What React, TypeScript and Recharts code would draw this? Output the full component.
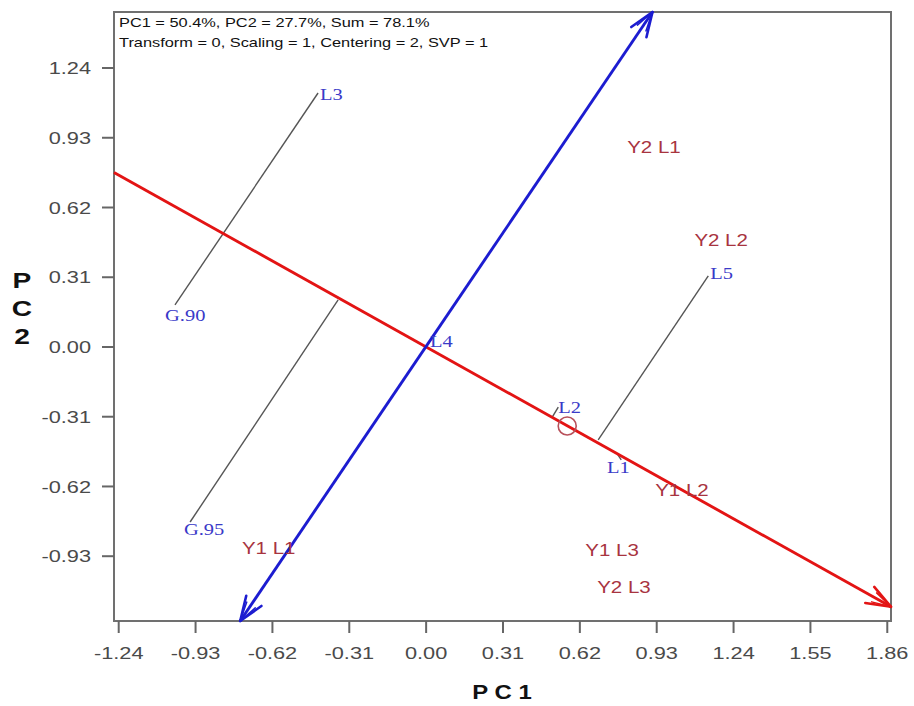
import React from 'react';
import { ScatterChart, Scatter, XAxis, YAxis, ReferenceLine, ReferenceArea, ReferenceDot } from 'recharts';

// axis ticks (PC1 / PC2)
const xTicks = [-1.24, -0.93, -0.62, -0.31, 0, 0.31, 0.62, 0.93, 1.24, 1.55, 1.86];
const yTicks = [-0.93, -0.62, -0.31, 0, 0.31, 0.62, 0.93, 1.24];
const xDomain = [-1.259, 1.875];
const yDomain = [-1.218, 1.489];

// genotype labels (blue)
const genotypes = [
  { label: 'L3', x: -0.428, y: 1.12 },
  { label: 'G.90', x: -1.053, y: 0.138 },
  { label: 'L4', x: 0.016, y: 0.022 },
  { label: 'L2', x: 0.533, y: -0.271 },
  { label: 'L1', x: 0.73, y: -0.538 },
  { label: 'L5', x: 1.146, y: 0.324 },
  { label: 'G.95', x: -0.977, y: -0.813 },
];

// environment labels (red)
const environments = [
  { label: 'Y2 L1', x: 0.811, y: 0.889 },
  { label: 'Y2 L2', x: 1.082, y: 0.476 },
  { label: 'Y1 L2', x: 0.924, y: -0.636 },
  { label: 'Y1 L3', x: 0.642, y: -0.902 },
  { label: 'Y2 L3', x: 0.69, y: -1.067 },
  { label: 'Y1 L1', x: -0.743, y: -0.893 },
];

// average environment axis and its ordinate
const aeaAxis = [{ x: -1.259, y: 0.776 }, { x: 1.875, y: -1.155 }];
const aeaOrdinate = [{ x: -0.75, y: -1.218 }, { x: 0.913, y: 1.489 }];

// projections onto the axis
const projections = [
  [{ x: -0.436, y: 1.129 }, { x: -1.013, y: 0.187 }],
  [{ x: -0.355, y: 0.209 }, { x: -0.952, y: -0.778 }],
  [{ x: 1.138, y: 0.316 }, { x: 0.694, y: -0.413 }],
  [{ x: 0.508, y: -0.313 }, { x: 0.533, y: -0.267 }],
  [{ x: 0.771, y: -0.475 }, { x: 0.787, y: -0.502 }],
];

const avgEnv = { x: 0.569, y: -0.351 };

const SX = 1.28;
const BLUE = '#1c1cd0';
const RED = '#e31414';

function SText({ x, y, children, size, color, anchor = 'start', weight = 'normal', family = 'Arial, "Liberation Sans", sans-serif', sx = SX }: any) {
  return (
    <g transform={`translate(${x},${y}) scale(${sx},1)`}>
      <text x={0} y={0} fontSize={size} fill={color} textAnchor={anchor} fontWeight={weight} fontFamily={family} dominantBaseline="central">
        {children}
      </text>
    </g>
  );
}

function arrowHead(tx: number, ty: number, fx: number, fy: number, color: string, key: string) {
  const a = Math.atan2(fy - ty, fx - tx);
  const parts = [
    { d: 0.36, l: 26, w: 2.6 },
    { d: -0.36, l: 26, w: 2.6 },
    { d: 0.26, l: 20, w: 1.5 },
    { d: -0.26, l: 20, w: 1.5 },
  ];
  return parts.map((p, i) => (
    <line key={key + i} x1={tx} y1={ty} x2={tx + p.l * Math.cos(a + p.d)} y2={ty + p.l * Math.sin(a + p.d)} stroke={color} strokeWidth={p.w} strokeLinecap="round" />
  ));
}

function ArrowLine(props: any) {
  const { x1, y1, x2, y2, color, both } = props;
  if (x1 == null) return null;
  return (
    <g>
      <line x1={x1} y1={y1} x2={x2} y2={y2} stroke={color} strokeWidth={2.9} />
      {arrowHead(x2, y2, x1, y1, color, 'e')}
      {both ? arrowHead(x1, y1, x2, y2, color, 's') : null}
    </g>
  );
}

const XTick = (props: any) => {
  const { x, y, payload } = props;
  return <SText x={x} y={y + 12} size={17} color="#4a4a4a" anchor="middle">{payload.value.toFixed(2)}</SText>;
};

const YTick = (props: any) => {
  const { x, y, payload } = props;
  return <SText x={x} y={y} size={17} color="#4a4a4a" anchor="end">{payload.value.toFixed(2)}</SText>;
};

const makeLabel = (color: string, family: string) => (props: any) => {
  const { cx, cy, payload } = props;
  return <SText x={cx} y={cy} size={16} color={color} family={family}>{payload.label}</SText>;
};

export default function App() {
  return (
    <div style={{ position: 'absolute', left: 0, top: 0, width: 914, height: 706, background: '#fff' }}>
      <ScatterChart width={914} height={706} margin={{ top: 12, right: 23, bottom: 0, left: 0 }}>
        <XAxis type="number" dataKey="x" domain={xDomain} ticks={xTicks} allowDataOverflow axisLine={false}
          tickSize={12} tickMargin={8} tickLine={{ stroke: '#666', strokeWidth: 2 }} tick={<XTick />} height={85} interval={0} />
        <YAxis type="number" dataKey="y" domain={yDomain} ticks={yTicks} allowDataOverflow axisLine={false}
          tickSize={12} tickMargin={11} tickLine={{ stroke: '#666', strokeWidth: 2 }} tick={<YTick />} width={114} interval={0} />
        <ReferenceArea x1={xDomain[0]} x2={xDomain[1]} y1={yDomain[0]} y2={yDomain[1]} fill="none" stroke="#707070" strokeWidth={2} ifOverflow="visible" />
        {projections.map((seg, i) => (
          <ReferenceLine key={i} segment={seg} stroke="#555" strokeWidth={1.4} ifOverflow="visible" />
        ))}
        <ReferenceLine segment={aeaAxis} ifOverflow="visible" shape={(p: any) => <ArrowLine {...p} color={RED} />} />
        <ReferenceLine segment={aeaOrdinate} ifOverflow="visible" shape={(p: any) => <ArrowLine {...p} color={BLUE} both />} />
        <ReferenceDot x={avgEnv.x} y={avgEnv.y} r={9} fill="none" stroke="#b8505a" strokeWidth={1.6} ifOverflow="visible" />
        <Scatter data={genotypes} isAnimationActive={false} shape={makeLabel('#3a3ac8', '"Liberation Serif", "Times New Roman", serif')} />
        <Scatter data={environments} isAnimationActive={false} shape={makeLabel('#a8343f', 'Arial, "Liberation Sans", sans-serif')} />
      </ScatterChart>
      <svg width={914} height={706} style={{ position: 'absolute', left: 0, top: 0, pointerEvents: 'none' }}>
        <SText x={119} y={23} size={13} color="#111" sx={1.26}>PC1 = 50.4%, PC2 = 27.7%, Sum = 78.1%</SText>
        <SText x={119} y={43} size={13} color="#111" sx={1.26}>Transform = 0, Scaling = 1, Centering = 2, SVP = 1</SText>
        <SText x={502} y={692} size={21} color="#111" anchor="middle" weight="bold" sx={1.14}>P C 1</SText>
        <SText x={22} y={280} size={22} color="#111" anchor="middle" weight="bold">P</SText>
        <SText x={22} y={308} size={22} color="#111" anchor="middle" weight="bold">C</SText>
        <SText x={22} y={336} size={22} color="#111" anchor="middle" weight="bold">2</SText>
      </svg>
    </div>
  );
}
